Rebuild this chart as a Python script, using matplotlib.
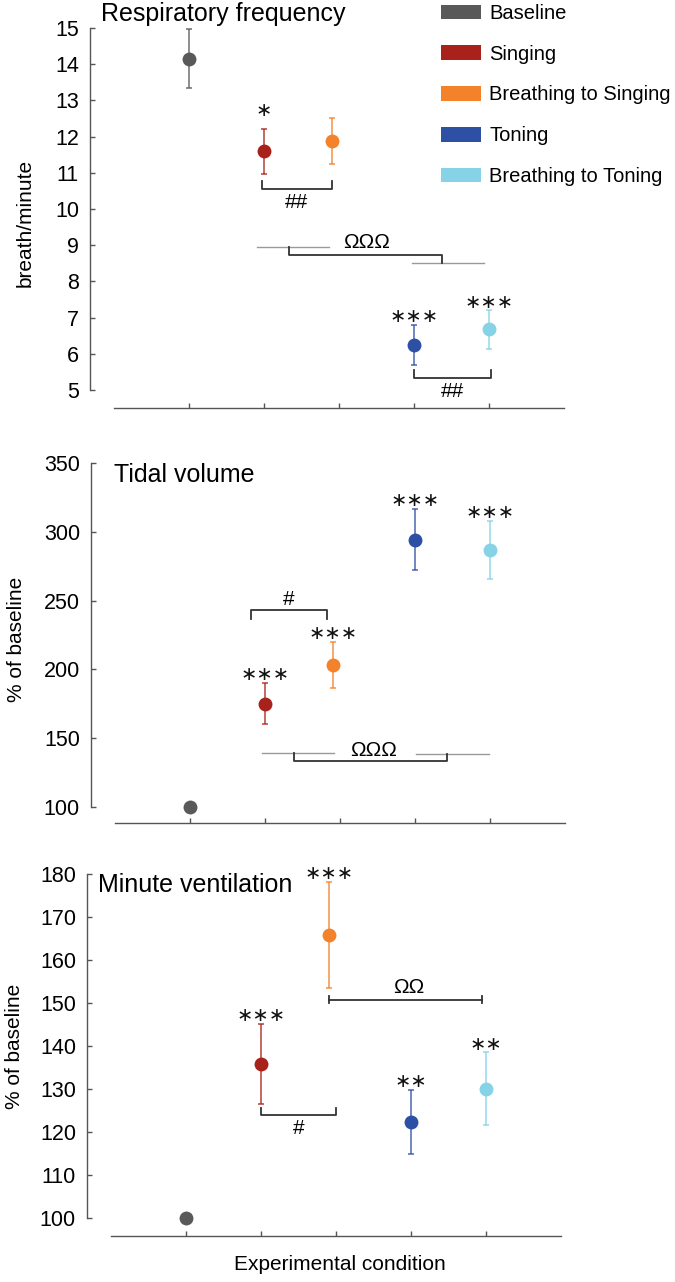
import matplotlib
matplotlib.use("Agg")
import matplotlib.pyplot as plt
from matplotlib.patches import Patch

plt.rcParams['font.family'] = ['Liberation Sans', 'DejaVu Sans']

# ---- data ----
conditions = ['Baseline', 'Singing', 'Breathing to Singing', 'Toning', 'Breathing to Toning']
colors = ['#595959', '#a8221b', '#f4822a', '#2d50a5', '#86d3e7']
cond_x = [1, 2, 2.9, 4, 5]

resp_freq = [14.15, 11.59, 11.87, 6.25, 6.67]
resp_freq_err = [0.82, 0.63, 0.63, 0.55, 0.53]
resp_freq_stars = [0, 1, 0, 3, 3]

tidal_vol = [100, 175.1, 203.3, 294.4, 286.8]
tidal_vol_err = [0, 15.0, 16.6, 22.4, 21.3]
tidal_vol_stars = [0, 3, 3, 3, 3]

min_vent = [100, 135.9, 165.8, 122.4, 130.1]
min_vent_err = [0, 9.3, 12.4, 7.45, 8.4]
min_vent_stars = [0, 3, 3, 2, 2]

W, H = 675, 1282
fig = plt.figure(figsize=(W / 100, H / 100), dpi=100)

AXIS_COLOR = '#555555'
BRACKET_COLOR = '#333333'
GROUP_COLOR = '#9a9a9a'


def make_axes(left_px, top_px, bottom_px, ylim, yticks, ybounds):
    """ Axes with an offset left spine and a floating bottom line, MATLAB style """
    ax = fig.add_axes([left_px / W, 1 - bottom_px / H, 475 / W, (bottom_px - top_px) / H])
    ax.set_xlim(-0.32, 6.01)
    ax.set_ylim(*ylim)
    for side in ['top', 'right']:
        ax.spines[side].set_visible(False)
    for side in ['left', 'bottom']:
        ax.spines[side].set_color(AXIS_COLOR)
        ax.spines[side].set_linewidth(1.0)
    ax.spines['left'].set_bounds(*ybounds)
    ax.spines['bottom'].set_bounds(0, 6)
    ax.set_yticks(yticks)
    ax.set_xticks(range(1, 6))
    ax.set_xticklabels([])
    ax.tick_params(axis='both', direction='in', length=3.5, width=1.0, color=AXIS_COLOR,
                   labelsize=15.5, pad=8)
    ax.patch.set_alpha(0)
    return ax


def draw_points(ax, values, errs, stars):
    for i in range(len(values)):
        if errs[i] > 0:
            ax.errorbar(cond_x[i], values[i], yerr=errs[i], fmt='none', ecolor=colors[i],
                        alpha=0.8, elinewidth=1.2, capsize=2.5, capthick=1.2, clip_on=False)
        ax.plot(cond_x[i], values[i], 'o', color=colors[i], ms=10, mec='none',
                clip_on=False, zorder=3)
        n = stars[i]
        if n:
            # single star sits higher than the groups of stars
            off = 9 if n == 1 else 2
            ax.annotate('\u2217' * n, (cond_x[i], values[i] + errs[i]), xytext=(0, off),
                        textcoords='offset points', ha='center', va='baseline',
                        fontsize=14, family='DejaVu Sans', color='#111111',
                        annotation_clip=False)


def cup(ax, x1, x2, y_top, y_bot, label, label_y):
    """ bracket open at the top, label underneath """
    ax.plot([x1, x1, x2, x2], [y_top, y_bot, y_bot, y_top], color=BRACKET_COLOR, lw=1.3,
            clip_on=False)
    ax.text((x1 + x2) / 2, label_y, label, ha='center', va='center', fontsize=15)


def cap(ax, x1, x2, y_top, y_bot, label, label_y):
    """ bracket open at the bottom, label above """
    ax.plot([x1, x1, x2, x2], [y_bot, y_top, y_top, y_bot], color=BRACKET_COLOR, lw=1.3,
            clip_on=False)
    ax.text((x1 + x2) / 2, label_y, label, ha='center', va='center', fontsize=15)


def group_bracket(ax, g1, g2, xa, xb, y_low, label, lx, ly):
    """ two grey group lines joined by a stepped bracket """
    for x1, x2, y in [g1, g2]:
        ax.plot([x1, x2], [y, y], color=GROUP_COLOR, lw=1.0, clip_on=False)
    ax.plot([xa, xa, xb, xb], [g1[2], y_low, y_low, g2[2]], color=BRACKET_COLOR, lw=1.3,
            clip_on=False)
    ax.text(lx, ly, label, ha='center', va='center', fontsize=15)


# ---- panel 1: respiratory frequency ----
ax1 = make_axes(90, 28, 408, (4.50, 15), range(5, 16), (5, 15))
draw_points(ax1, resp_freq, resp_freq_err, resp_freq_stars)
cup(ax1, 1.97, 2.90, 10.78, 10.55, '##', 10.19)
cup(ax1, 4.0, 5.02, 5.56, 5.34, '##', 4.95)
group_bracket(ax1, (1.905, 2.86, 8.96), (3.97, 4.93, 8.50), 2.33, 4.37, 8.72,
              'ΩΩΩ', 3.36, 9.06)
fig.text(101 / W, 1 - 14 / H, 'Respiratory frequency', fontsize=18, ha='left', va='center')
fig.text(25 / W, 1 - 223 / H, 'breath/minute', fontsize=15, rotation=90,
         ha='center', va='center')

# ---- panel 2: tidal volume ----
ax2 = make_axes(91, 463, 823, (88.4, 350), range(100, 351, 50), (100, 350))
draw_points(ax2, tidal_vol, tidal_vol_err, tidal_vol_stars)
cap(ax2, 1.81, 2.82, 242.9, 236.9, '#', 250.7)
group_bracket(ax2, (1.96, 2.92, 139.2), (4.01, 4.98, 138.8), 2.38, 4.42, 133.2,
              'ΩΩΩ', 3.45, 141.2)
fig.text(114 / W, 1 - 475 / H, 'Tidal volume', fontsize=18, ha='left', va='center')
fig.text(17 / W, 1 - 639 / H, '% of baseline', fontsize=15, rotation=90,
         ha='center', va='center')

# ---- panel 3: minute ventilation ----
ax3 = make_axes(87, 874, 1236, (95.8, 180), range(100, 181, 10), (100, 180))
draw_points(ax3, min_vent, min_vent_err, min_vent_stars)
ax3.plot([2.905, 4.94], [150.8, 150.8], color=BRACKET_COLOR, lw=1.3, clip_on=False)
for xe in [2.905, 4.94]:
    ax3.plot([xe, xe], [149.9, 151.7], color=BRACKET_COLOR, lw=1.3, clip_on=False)
ax3.text(3.97, 153.5, 'ΩΩ', ha='center', va='center', fontsize=15)
cup(ax3, 2.0, 3.0, 125.6, 123.9, '#', 120.8)
fig.text(98 / W, 1 - 885 / H, 'Minute ventilation', fontsize=18, ha='left', va='center')
fig.text(15 / W, 1 - 1046 / H, '% of baseline', fontsize=15, rotation=90,
         ha='center', va='center')
fig.text(340 / W, 1 - 1265 / H, 'Experimental condition', fontsize=15,
         ha='center', va='center')

# ---- legend ----
handles = [Patch(facecolor=c, edgecolor='none') for c in colors]
fig.legend(handles, conditions, loc='upper left', bbox_to_anchor=(441 / W, 1 - 4 / H),
           frameon=False, fontsize=14.5, handlelength=2.0, handleheight=0.75,
           handletextpad=0.4, labelspacing=1.08, borderpad=0, borderaxespad=0)

fig.savefig('out.png', dpi=100)
